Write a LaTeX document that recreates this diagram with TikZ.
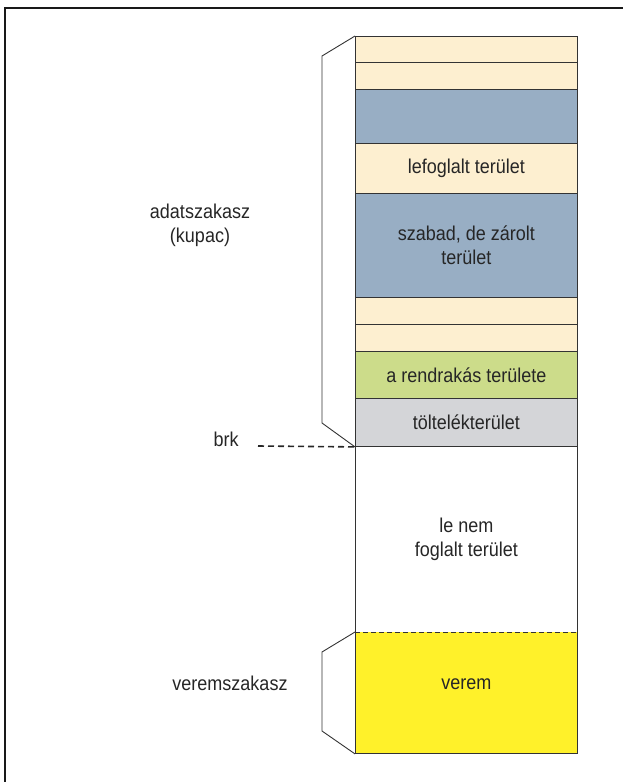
\documentclass[tikz,border=0pt]{standalone}
\usepackage{fontspec}
\setmainfont[FakeStretch=0.9]{Liberation Sans}
\definecolor{cream}{RGB}{253,239,208}
\definecolor{slate}{RGB}{152,174,196}
\definecolor{lime}{RGB}{204,220,138}
\definecolor{pale}{RGB}{212,213,216}
\definecolor{stackyellow}{RGB}{255,241,42}
\begin{document}
\begin{tikzpicture}[x=1pt,y=-1pt,
  outline/.style={draw=black!80,line width=0.9pt},
  txt/.style={text=black!85,align=center,font=\fontsize{20}{24}\selectfont},
  cell/.style={outline,txt,minimum width=222pt,inner sep=0pt,anchor=north west},
  lbl/.style={txt},
  brace/.style={draw=black!80,line width=0.9pt}]
\useasboundingbox (0,0) rectangle (623,782);
% outer frame (only top and left edges fall inside the page)
\draw[line width=1.8pt,black!90] (5,782) -- (5,8) -- (623,8);
% memory column, from top to bottom
\node[cell,fill=cream,minimum height=26pt] (c1) at (355,36) {};
\node[cell,fill=cream,minimum height=27pt] (c2) at (355,62) {};
\node[cell,fill=slate,minimum height=54pt] (c3) at (355,89) {};
\node[cell,fill=cream,minimum height=50pt] (c4) at (355,143) {lefoglalt terület};
\node[cell,fill=slate,minimum height=104pt] (c5) at (355,193) {szabad, de zárolt\\terület};
\node[cell,fill=cream,minimum height=27pt] (c6) at (355,297) {};
\node[cell,fill=cream,minimum height=27pt] (c7) at (355,324) {};
\node[cell,fill=lime,minimum height=47pt] (c8) at (355,351) {a rendrakás területe};
\node[cell,fill=pale,minimum height=48pt] (c9) at (355,398) {töltelékterület};
\node[cell,draw=none,fill=white,minimum height=186pt] (free) at (355,446) {le nem\\foglalt terület};
\node[cell,draw=none,fill=stackyellow,minimum height=121pt] (stack) at (355,632) {};
\node[lbl] (stacktext) at ([yshift=9pt]stack.center) {verem};
% outline of the free area and the stack
\draw[outline] (free.south west) -- (free.north west) -- (free.north east) -- (free.south east);
\draw[outline] (stack.north west) -- (stack.south west) -- (stack.south east) -- (stack.north east);
\draw[outline,dash pattern=on 5pt off 3pt] (free.south west) -- (free.south east);
% bracket of the data segment
\coordinate (d1) at (322,56);
\coordinate (d2) at (322,423);
\draw[brace] (c1.north west) -- (d1) -- (d2) -- (c9.south west);
\node[lbl] (data) at (200,225) {adatszakasz\\(kupac)};
% bracket of the stack segment
\coordinate (s1) at (322,652);
\coordinate (s2) at (322,731);
\draw[brace] (stack.north west) -- (s1) -- (s2) -- (stack.south west);
\node[lbl] (stk) at (230,683) {veremszakasz};
% program break
\node[lbl] (brk) at (226,439) {brk};
\coordinate (b0) at (258,446);
\draw[line width=1.6pt,black!85,dash pattern=on 6pt off 4pt] (b0) -- (c9.south west);
\end{tikzpicture}
\end{document}
